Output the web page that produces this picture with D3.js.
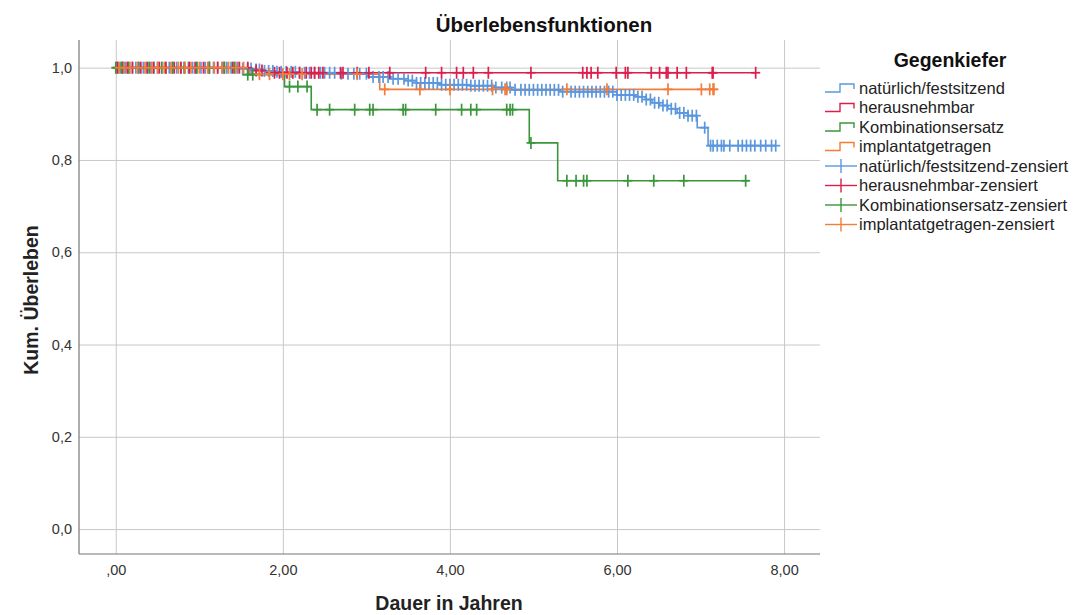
<!DOCTYPE html>
<html><head><meta charset="utf-8">
<script src="https://cdn.jsdelivr.net/npm/d3@7"></script>
<style>body{margin:0;background:#fff}svg{display:block}text{font-family:"Liberation Sans",Arial,sans-serif}</style>
</head><body><svg id="c" width="1078" height="615"></svg>
<script>
// ---- data ----
const groups = ["natürlich/festsitzend","herausnehmbar","Kombinationsersatz","implantatgetragen"];
const colors = ["#5B97DF","#DD1E4C","#3B963B","#F27C3A"];
const xTicks = [0,2,4,6,8];
const yTicks = [0,0.2,0.4,0.6,0.8,1.0];

// step events [time, survival after drop]
const blueEvents = [[1.49,0.998],[1.63,0.996],[1.75,0.993],[1.90,0.991],[2.20,0.989],[2.68,0.987],[3.01,0.980],[3.28,0.976],[3.46,0.972],[3.60,0.967],[3.88,0.963],[4.24,0.961],[4.54,0.957],[4.74,0.952],[5.32,0.948],[6.00,0.941],[6.22,0.937],[6.34,0.931],[6.42,0.924],[6.51,0.918],[6.61,0.911],[6.72,0.902],[6.85,0.896],[6.96,0.870],[7.09,0.831]];
const redEvents = [[1.62,0.994],[1.80,0.989]];
const greenEvents = [[1.52,0.985],[2.02,0.959],[2.34,0.909],[4.95,0.837],[5.29,0.755]];
const orangeEvents = [[1.60,0.986],[3.16,0.953]];

// censored times
const blueCensored = [0.01,0.03,0.06,0.09,0.12,0.15,0.2,0.24,0.28,0.33,0.37,0.42,0.46,0.5,0.55,0.6,0.64,0.68,0.73,0.78,0.82,0.87,0.92,0.97,1.02,1.07,1.12,1.17,1.22,1.28,1.33,1.38,1.42,1.46,1.52,1.58,1.62,1.68,1.72,1.78,1.83,1.88,1.93,1.98,2.04,2.1,2.15,2.2,2.26,2.32,2.38,2.45,2.5,2.56,2.62,2.7,2.78,2.85,2.92,3.0,3.08,3.15,3.2,3.26,3.32,3.38,3.45,3.5,3.55,3.6,3.65,3.7,3.75,3.8,3.85,3.9,3.95,4.0,4.05,4.1,4.15,4.2,4.25,4.3,4.35,4.4,4.45,4.5,4.55,4.62,4.68,4.72,4.78,4.85,4.9,4.95,5.0,5.05,5.1,5.15,5.2,5.25,5.3,5.35,5.45,5.5,5.55,5.6,5.65,5.7,5.75,5.8,5.85,5.9,5.95,6.0,6.05,6.1,6.15,6.2,6.25,6.3,6.35,6.4,6.45,6.5,6.55,6.6,6.65,6.7,6.75,6.8,6.85,6.9,6.95,7.05,7.12,7.15,7.2,7.25,7.28,7.35,7.45,7.5,7.55,7.6,7.65,7.72,7.78,7.85,7.9];
const redCensored = [0.02,0.08,0.14,0.2,0.3,0.38,0.45,0.52,0.6,0.7,0.78,0.88,0.95,1.05,1.12,1.22,1.3,1.4,1.48,1.58,1.68,1.75,1.9,1.96,2.05,2.12,2.2,2.28,2.34,2.38,2.43,2.48,2.69,2.72,2.89,3.03,3.28,3.71,3.90,4.08,4.16,4.28,4.46,4.97,5.59,5.64,5.69,5.77,5.99,6.10,6.13,6.41,6.51,6.59,6.61,6.72,6.83,7.14,7.15,7.66];
const greenCensored = [0.0,0.07,0.16,0.27,0.4,0.55,0.68,0.82,0.97,1.12,1.3,1.42,1.58,1.64,2.08,2.18,2.29,2.41,2.56,2.86,3.04,3.08,3.44,3.47,3.83,4.14,4.25,4.32,4.68,4.72,4.75,4.97,5.40,5.51,5.60,5.64,6.13,6.44,6.80,7.54];
const orangeCensored = [0.04,0.1,0.17,0.26,0.35,0.43,0.5,0.58,0.66,0.75,0.83,0.9,1.0,1.1,1.18,1.27,1.35,1.44,1.53,1.72,1.84,2.0,2.08,2.23,2.89,3.22,3.64,4.0,4.51,4.66,4.68,5.40,5.88,6.61,7.01,7.11,7.15,7.16];

const endTimes = [7.90,7.66,7.58,7.16];

// ---- drawing ----
const svg = d3.select("#c");
const x = d3.scaleLinear().domain([-0.44,8.43]).range([79,820]);
const y = d3.scaleLinear().domain([-0.054,1.06]).range([554,40]);

const fmtX = v => v===0 ? ",00" : d3.format(".2f")(v).replace(".",",");
const fmtY = v => d3.format(".1f")(v).replace(".",",");

// grid
const gx = svg.append("g").attr("transform","translate(0,554)")
  .call(d3.axisBottom(x).tickValues(xTicks).tickSize(-514).tickPadding(11).tickFormat(fmtX));
gx.select(".domain").remove();
gx.selectAll("line").attr("stroke","#c8c8c8");
gx.selectAll("text").attr("font-size",14.5).attr("fill","#333").attr("font-family","Liberation Sans, Arial, sans-serif");

const gy = svg.append("g").attr("transform","translate(79,0)")
  .call(d3.axisLeft(y).tickValues(yTicks).tickSize(-741).tickPadding(7).tickFormat(fmtY));
gy.select(".domain").remove();
gy.selectAll("line").attr("stroke","#c8c8c8");
gy.selectAll("text").attr("font-size",14.5).attr("fill","#333").attr("font-family","Liberation Sans, Arial, sans-serif");

// axis lines
svg.append("line").attr("x1",79).attr("x2",79).attr("y1",40).attr("y2",554).attr("stroke","#777").attr("stroke-width",1.2);
svg.append("line").attr("x1",79).attr("x2",820).attr("y1",554).attr("y2",554).attr("stroke","#777").attr("stroke-width",1.2);

const eventsAll = [blueEvents,redEvents,greenEvents,orangeEvents];
const censAll = [blueCensored,redCensored,greenCensored,orangeCensored];

function survAt(ev,t){ let s=1; for(const e of ev){ if(e[0]<=t) s=e[1]; } return s; }

const line = d3.line().x(d=>x(d[0])).y(d=>y(d[1])).curve(d3.curveStepAfter);
eventsAll.forEach((ev,i)=>{
  const pts=[[0,1],...ev,[endTimes[i],ev[ev.length-1][1]]];
  svg.append("path").attr("d",line(pts)).attr("fill","none").attr("stroke",colors[i]).attr("stroke-width",1.6);
});
censAll.forEach((cs,i)=>{
  const g=svg.append("g").attr("stroke",colors[i]).attr("stroke-width",1.7);
  cs.forEach(t=>{
    const cx=x(t), cy=y(survAt(eventsAll[i],t));
    g.append("line").attr("x1",cx).attr("x2",cx).attr("y1",cy-6).attr("y2",cy+6);
    g.append("line").attr("x1",cx-4.5).attr("x2",cx+4.5).attr("y1",cy).attr("y2",cy);
  });
});

// titles
svg.append("text").attr("x",544).attr("y",32).attr("text-anchor","middle").attr("font-size",20.5).attr("font-weight","bold").attr("fill","#111").text("Überlebensfunktionen");
svg.append("text").attr("x",449).attr("y",610).attr("text-anchor","middle").attr("font-size",19.5).attr("font-weight","bold").attr("fill","#222").text("Dauer in Jahren");
svg.append("text").attr("transform","translate(38,300) rotate(-90)").attr("text-anchor","middle").attr("font-size",19.5).attr("font-weight","bold").attr("fill","#222").text("Kum. Überleben");

// legend
svg.append("text").attr("x",950).attr("y",67).attr("text-anchor","middle").attr("font-size",19.5).attr("font-weight","bold").attr("fill","#111").text("Gegenkiefer");
const legendLabels = [...groups, ...groups.map(g=>g+"-zensiert")];
legendLabels.forEach((lab,k)=>{
  const cy = 88 + k*19.5, c = colors[k%4];
  if(k<4){
    svg.append("path").attr("d",`M825,${cy+4}H840V${cy-4}H854V${cy+1}`).attr("fill","none").attr("stroke",c).attr("stroke-width",1.4);
  } else {
    svg.append("line").attr("x1",825).attr("x2",857).attr("y1",cy).attr("y2",cy).attr("stroke",c).attr("stroke-width",1.4);
    svg.append("line").attr("x1",841).attr("x2",841).attr("y1",cy-7).attr("y2",cy+7).attr("stroke",c).attr("stroke-width",1.4);
  }
  svg.append("text").attr("x",859).attr("y",cy+5.5).attr("font-size",16.5).attr("fill","#222").text(lab);
});
</script></body></html>
